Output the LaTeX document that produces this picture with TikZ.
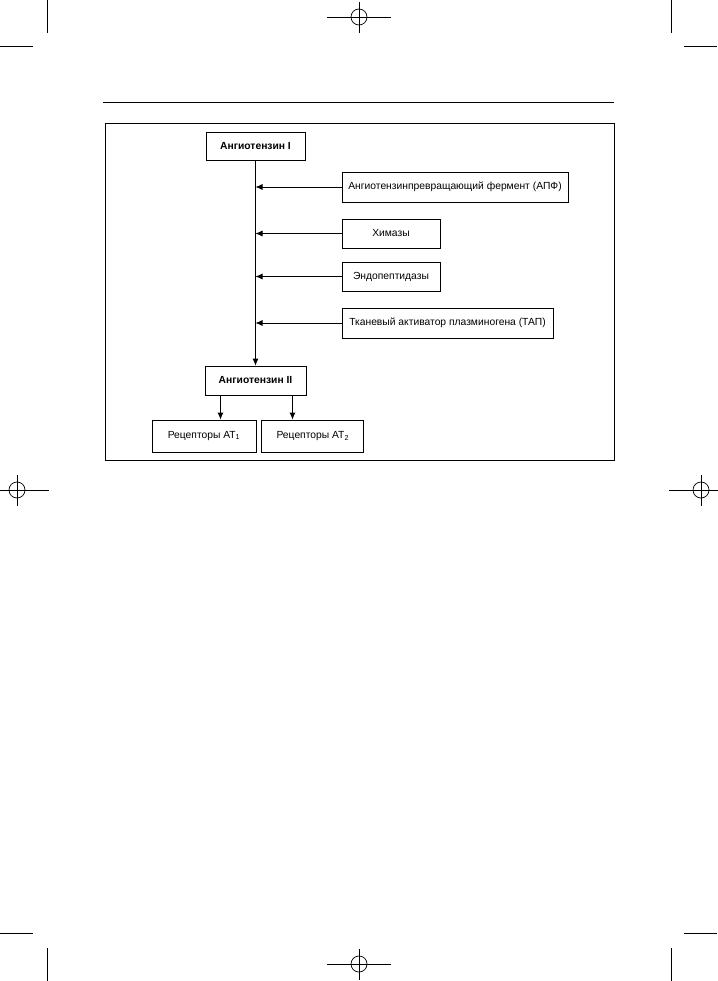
\documentclass[tikz,border=0pt]{standalone}
\usepackage{fontspec}
\setmainfont{Liberation Sans}
\usepackage{tikz}
\usetikzlibrary{positioning,arrows.meta}

\tikzset{
  blockbox/.style={draw, line width=0.8pt, inner sep=2pt, align=center,
    font=\fontsize{10.3}{12}\selectfont},
  cropline/.style={line width=0.9pt},
}

\begin{document}
\begin{tikzpicture}[x=1pt, y=-1pt, >={Latex[length=7pt,width=6pt]}]
  \useasboundingbox (0,0) rectangle (717,981);

  % crop and registration marks
  \foreach \cx/\cy in {359/17, 17/490, 701/490, 359/964} {
    \draw[line width=0.7pt] (\cx,\cy) circle (8);
    \draw[cropline] (\cx-32,\cy) -- (\cx+32,\cy);
    \draw[cropline] (\cx,\cy-15) -- (\cx,\cy+16);
  }
  \draw[cropline] (47,0) -- (47,33)   (0,46) -- (33,46);
  \draw[cropline] (671,0) -- (671,33)  (684,46) -- (717,46);
  \draw[cropline] (0,933) -- (33,933)  (47,948) -- (47,981);
  \draw[cropline] (684,933) -- (717,933)  (671,948) -- (671,981);

  % header rule and frame
  \draw[line width=1pt] (103,103) -- (614,103);
  \draw[line width=0.8pt] (105,123) rectangle (614,460);

  \node[blockbox, minimum width=99pt, minimum height=28pt] (ang1) at (255.5,146) {\textbf{Ангиотензин I}};
  \node[blockbox, minimum width=226pt, minimum height=30pt] (apf) at (455,187) {Ангиотензинпревращающий фермент (АПФ)};
  \node[blockbox, minimum width=98pt, minimum height=29pt] (chym) at (391,233.5) {Химазы};
  \node[blockbox, minimum width=98pt, minimum height=29pt] (endo) at (391,276.5) {Эндопептидазы};
  \node[blockbox, minimum width=211pt, minimum height=30pt] (tap) at (447.5,323) {Тканевый активатор плазминогена (ТАП)};
  \node[blockbox, minimum width=101pt, minimum height=29pt] (ang2) at (255.5,380.5) {\textbf{Ангиотензин II}};
  \node[blockbox, minimum width=104pt, minimum height=32pt] (at1) at (204,436) {Рецепторы AT\textsubscript{1}};
  \node[blockbox, minimum width=102pt, minimum height=32pt, right=5pt of at1] (at2) {Рецепторы AT\textsubscript{2}};

  \draw[->, line width=0.8pt] (ang1.south) -- (ang2.north);
  \foreach \enz in {apf, chym, endo, tap}
    \draw[->, line width=0.8pt] (\enz.west) -- (\enz.west -| ang1.south);

  \draw[->, line width=0.8pt] ([xshift=-35pt]ang2.south) -- ([xshift=-35pt]ang2.south |- at1.north);
  \draw[->, line width=0.8pt] ([xshift=37pt]ang2.south) -- ([xshift=37pt]ang2.south |- at2.north);
\end{tikzpicture}
\end{document}
